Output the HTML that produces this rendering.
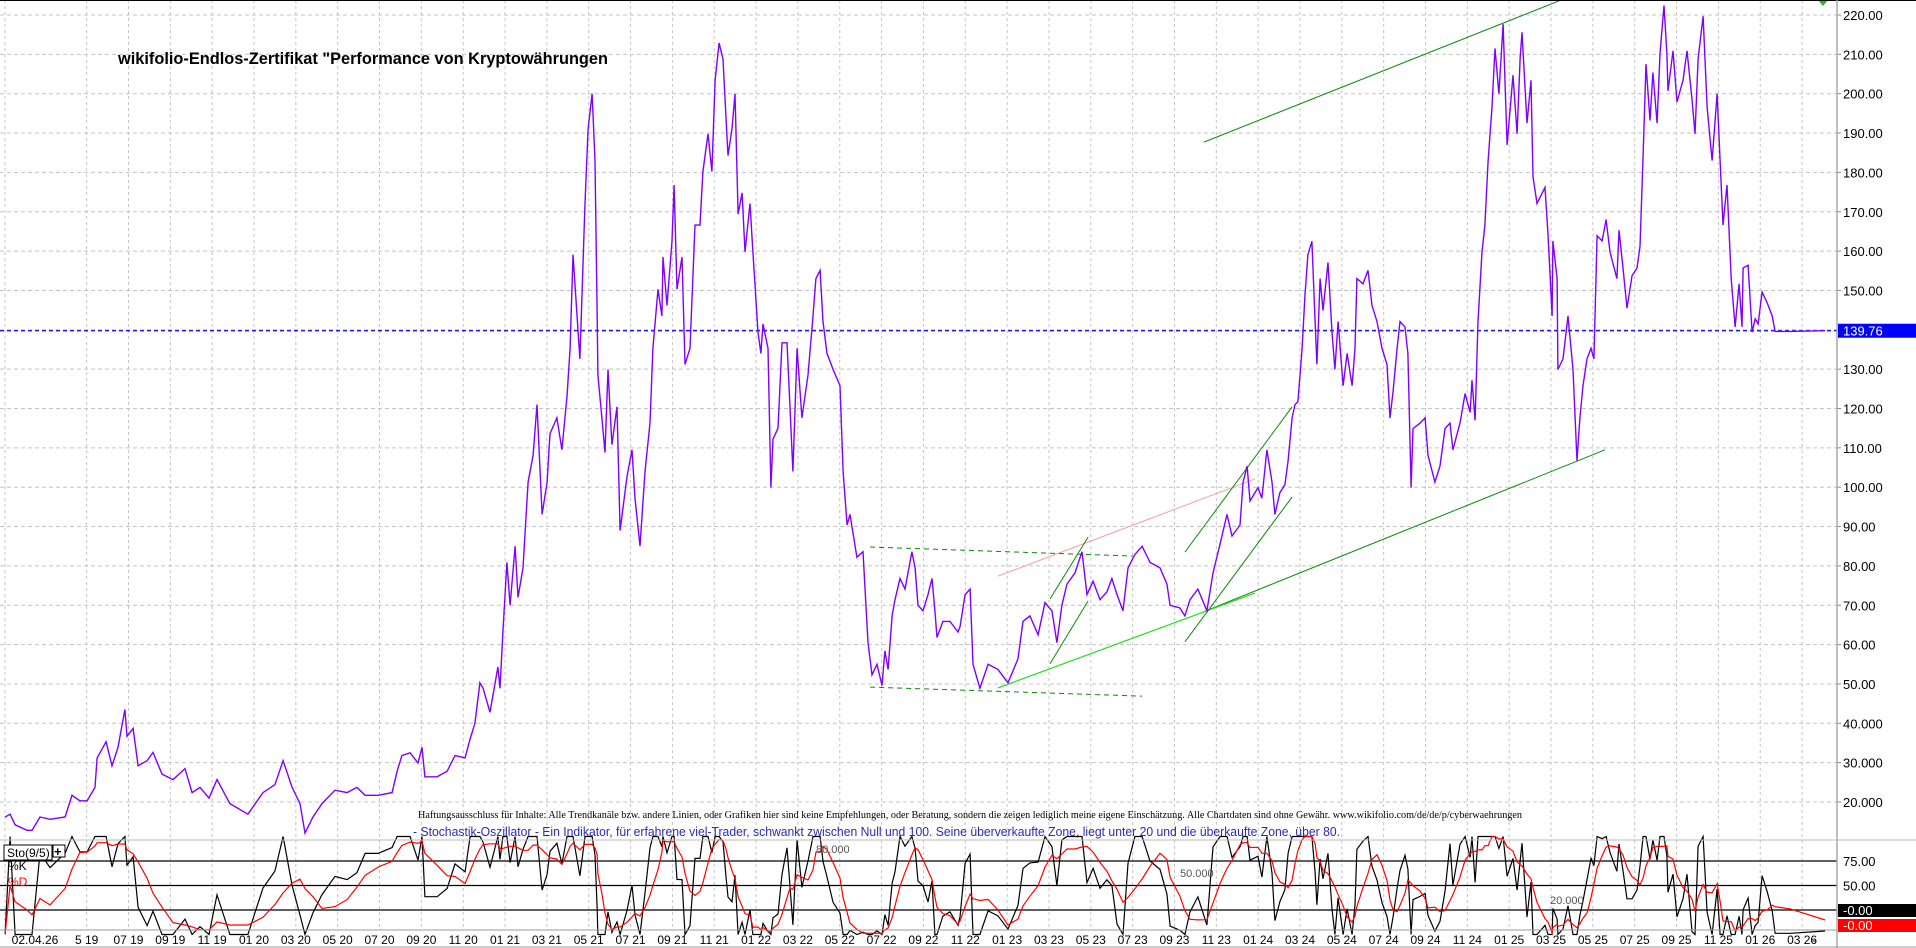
<!DOCTYPE html>
<html><head><meta charset="utf-8"><style>
html,body{margin:0;padding:0;background:#fff;overflow:hidden}
svg{display:block;font-family:"Liberation Sans",sans-serif}
</style></head><body>
<svg id="c" width="1916" height="948" viewBox="0 0 1916 948" xmlns="http://www.w3.org/2000/svg">
<rect x="0" y="0" width="1916" height="948" fill="#fff"/>
<g id="grid"></g>
<g id="trend"></g>
<g id="series"></g>
<g id="sto"></g>
<g id="axes"></g>
<text x="118" y="64" font-size="17" font-weight="bold" textLength="490" lengthAdjust="spacingAndGlyphs">wikifolio-Endlos-Zertifikat "Performance von Kryptowährungen</text>
<text x="418" y="818" font-family="Liberation Serif, serif" font-size="11" textLength="1104" lengthAdjust="spacingAndGlyphs">Haftungsausschluss für Inhalte: Alle Trendkanäle bzw. andere Linien, oder Grafiken hier sind keine Empfehlungen, oder Beratung, sondern die zeigen lediglich meine eigene Einschätzung. Alle Chartdaten sind ohne Gewähr.  www.wikifolio.com/de/de/p/cyberwaehrungen</text>
<text x="413" y="836" font-size="12.5" fill="#2a2ab8" textLength="927" lengthAdjust="spacingAndGlyphs">- Stochastik-Oszillator - Ein Indikator, für erfahrene viel-Trader, schwankt zwischen Null und 100. Seine überverkaufte Zone, liegt unter 20 und die überkaufte Zone, über 80.</text>
</svg>
<script>
const dates=[-11.90,-11.66,-11.42,-10.85,-10.61,-10.23,-9.75,-9.03,-8.70,-8.32,-7.98,-7.60,-7.50,-7.07,-6.79,-6.50,-6.17,-6.07,-5.78,-5.54,-5.11,-4.83,-4.40,-3.87,-3.30,-2.96,-2.58,-2.15,-1.77,-1.15,-0.29,0.43,1.00,1.39,1.82,2.20,2.44,2.82,3.25,3.87,4.45,4.92,5.31,5.93,6.60,6.84,7.07,7.46,7.84,8.03,8.17,8.75,9.23,9.61,10.09,10.33,10.56,10.80,10.95,11.28,11.66,11.76,11.90,12.09,12.24,12.48,12.62,12.86,13.10,13.34,13.53,13.77,14.01,14.15,14.48,14.72,14.96,15.11,15.25,15.58,15.82,15.97,16.16,16.30,16.40,16.44,16.63,16.78,16.92,17.11,17.35,17.50,17.83,18.07,18.21,18.45,18.69,18.93,19.07,19.31,19.50,19.55,19.74,19.98,20.08,20.22,20.46,20.60,20.84,21.08,21.32,21.46,21.70,21.89,22.04,22.23,22.42,22.56,22.66,22.85,22.99,23.14,23.33,23.47,23.71,23.85,24.09,24.23,24.33,24.57,24.71,24.81,25.05,25.24,25.48,25.62,25.76,25.96,26.19,26.48,26.72,26.86,27.06,27.20,27.39,27.68,28.01,28.16,28.35,28.49,28.82,29.11,29.35,29.54,29.78,30.02,30.16,30.31,30.50,30.64,30.88,31.12,31.45,31.60,31.74,31.98,32.22,32.41,32.55,32.65,32.93,33.27,33.65,33.75,33.99,34.23,34.37,34.70,35.09,35.56,36.04,36.52,36.76,37.09,37.48,37.81,38.14,38.38,38.62,38.86,39.24,39.58,39.82,40.11,40.44,40.77,41.01,41.25,41.54,41.78,42.11,42.45,42.83,43.31,43.64,43.79,44.26,44.50,44.74,45.12,45.55,45.84,46.18,46.51,46.75,47.13,47.28,47.47,47.61,47.99,48.18,48.42,48.66,48.80,49.04,49.28,49.43,49.62,49.76,49.90,50.10,50.24,50.38,50.57,50.72,50.81,50.96,51.10,51.34,51.53,51.67,51.82,52.06,52.25,52.49,52.63,52.72,53.01,53.25,53.44,53.68,53.92,54.16,54.30,54.45,54.64,54.78,55.02,55.16,55.31,55.40,55.74,55.98,56.12,56.45,56.69,56.93,57.17,57.31,57.65,57.89,58.13,58.22,58.37,58.51,58.70,58.84,58.99,59.18,59.32,59.51,59.71,59.90,60.18,60.38,60.52,60.61,60.85,61.04,61.14,61.33,61.71,61.86,62.05,62.09,62.29,62.33,62.57,62.81,63.05,63.24,63.38,63.53,63.72,63.91,64.05,64.20,64.44,64.63,64.82,65.15,65.25,65.44,65.63,65.87,66.11,66.25,66.40,66.54,66.73,66.87,67.07,67.21,67.40,67.54,67.59,67.83,68.02,68.31,68.50,68.74,68.88,69.03,69.27,69.46,69.70,69.94,70.08,70.22,70.41,70.61,70.80,70.99,71.13,71.18,71.42,71.61,71.76,71.90,72.09,72.33,72.57,72.71,73.43,75.10];
const prices=[16.2,16.9,14.2,12.8,12.8,16.2,15.6,16.2,21.7,20.3,20.3,23.7,31.2,35.3,29.2,33.9,43.5,36.7,38.7,29.2,30.5,32.6,27.1,25.7,28.5,22.4,23.7,21.0,25.7,19.6,16.9,22.4,24.4,30.5,23.7,19.6,12.1,16.2,19.6,23.0,22.4,23.7,21.7,21.7,22.4,27.8,31.8,32.5,29.9,33.9,26.4,26.4,27.8,31.8,31.2,36.0,40.0,50.3,48.9,42.8,54.3,48.9,63.2,80.9,70.0,85.0,72.0,79.5,101.3,108.1,121.0,93.1,101.3,113.6,117.6,109.5,123.1,135.3,159.1,132.6,172.1,191.1,200.0,183.0,144.9,128.5,117.6,108.8,129.9,110.8,120.4,89.0,102.7,109.5,97.2,85.0,104.0,116.3,135.3,150.3,143.5,158.5,146.2,162.6,176.8,150.3,158.5,131.2,135.3,166.6,166.6,180.2,189.8,180.2,203.4,212.9,208.8,193.9,184.3,191.1,200.0,169.4,174.8,159.8,172.1,159.8,139.4,134.0,141.5,135.3,99.9,112.2,115.0,136.7,136.7,120.3,104.0,135.3,117.6,128.5,143.5,153.0,155.1,142.1,134.0,129.9,125.8,104.0,90.4,93.1,82.2,83.6,60.5,52.3,55.0,49.6,58.4,53.7,67.3,71.4,76.8,74.1,83.6,79.5,70.0,68.6,72.7,76.8,68.6,61.8,65.9,65.9,63.2,64.6,72.7,74.1,55.0,48.9,55.0,53.7,50.3,56.4,65.9,67.3,62.5,70.7,68.6,60.5,70.0,75.4,78.2,83.6,72.7,76.1,71.4,73.4,76.8,72.7,68.6,79.5,82.9,85.0,80.9,79.5,75.4,70.0,69.3,67.3,71.4,74.1,68.6,78.2,85.6,93.1,87.6,90.4,101.3,105.4,96.5,99.9,97.2,109.5,101.3,93.1,98.6,100.6,106.7,117.6,121.0,121.7,135.3,148.9,159.1,162.5,142.1,131.2,153.0,144.9,157.1,139.4,129.9,142.1,125.8,134.0,125.8,135.3,153.0,151.7,155.1,146.2,142.1,135.3,131.2,117.6,124.4,135.3,142.1,140.7,134.0,99.9,114.9,116.3,117.6,108.1,101.3,105.4,114.9,116.3,109.5,116.3,123.8,119.0,127.2,117.0,142.1,159.8,166.6,182.9,196.6,211.5,200.0,217.7,187.0,204.7,189.8,208.8,215.6,192.5,203.4,178.9,172.1,176.2,163.9,143.5,162.6,153.0,129.9,132.6,143.5,129.9,106.7,117.6,125.8,132.6,135.3,132.6,163.9,162.6,168.0,159.8,153.0,165.3,155.7,145.5,153.7,155.7,161.2,184.3,207.5,193.2,205.4,192.5,210.2,222.4,210.2,200.7,210.9,197.9,203.4,210.9,198.6,189.8,208.8,219.7,196.6,183.0,200.0,183.0,166.6,176.8,153.0,140.7,151.7,140.7,155.7,156.4,139.4,142.8,141.5,149.6,146.9,143.5,139.6,139.6,139.76];
const lastPrice=139.76;
const priceTicks=[220,210,200,190,180,170,160,150,140,130,120,110,100,90,80,70,60,50,40,30,20];
const priceTickLabels=["220.00","210.00","200.00","190.00","180.00","170.00","160.00","150.00","","130.00","120.00","110.00","100.00","90.00","80.00","70.00","60.00","50.00","40.000","30.000","20.000"];
const monthTicks=[-8,-6,-4,-2,0,2,4,6,8,10,12,14,16,18,20,22,24,26,28,30,32,34,36,38,40,42,44,46,48,50,52,54,56,58,60,62,64,66,68,70,72,74];
const monthLabels=["5 19","07 19","09 19","11 19","01 20","03 20","05 20","07 20","09 20","11 20","01 21","03 21","05 21","07 21","09 21","11 21","01 22","03 22","05 22","07 22","09 22","11 22","01 23","03 23","05 23","07 23","09 23","11 23","01 24","03 24","05 24","07 24","09 24","11 24","01 25","03 25","05 25","07 25","09 25","11 25","01 26","03 26"];
const stoLevels=[75,50,25];
// trend lines: [m1,v1,m2,v2]
const trendSolid=[[45.41,187.7,62.48,223.8],[45.46,68.5,64.58,109.5]];
const trendSupport=[[35.56,49.0,47.85,73.1]];
const trendPink=[[35.56,77.4,47.85,102.1]];
const trendDashed=[[29.45,84.8,42.02,82.5],[29.45,49.2,42.45,46.9]];
const trendShort=[[38.05,71.6,39.87,87.3],[38.05,55.1,39.87,71.1],[44.50,83.5,49.62,120.4],[44.50,60.7,49.62,97.5]];

const NS="http://www.w3.org/2000/svg";
const X=m=>254+m*20.92;
const Y=v=>15+(220-v)*3.935;
const SY=v=>934.5-v*0.98;
const R=1837;
function mk(tag,attrs,parent){const e=document.createElementNS(NS,tag);for(const k in attrs)e.setAttribute(k,attrs[k]);parent.appendChild(e);return e;}
const grid=document.getElementById('grid'),axes=document.getElementById('axes'),ser=document.getElementById('series'),tr=document.getElementById('trend'),sto=document.getElementById('sto');

priceTicks.forEach((v,i)=>{
  const l=mk('line',{x1:0,x2:R,y1:Y(v),y2:Y(v),stroke:'#c4c4c4','stroke-dasharray':'4,3'},grid);
  
  
  mk('line',{x1:R,x2:R+4,y1:Y(v),y2:Y(v),stroke:'#888'},axes);
  if(priceTickLabels[i]){
    const t=mk('text',{x:1843,y:Y(v)+5,'font-size':13,fill:'#000'},axes);
    t.textContent=priceTickLabels[i];
    
    
  }
});
const vxs=[5].concat(monthTicks.map(X));
vxs.forEach(x=>{
  const l=mk('line',{x1:x,x2:x,y1:0,y2:930,stroke:'#c4c4c4','stroke-dasharray':'3,3'},grid);
  
  
});
mk('line',{x1:0,x2:1916,y1:0.5,y2:0.5,stroke:'#000'},axes);
mk('line',{x1:R,x2:R,y1:0,y2:948,stroke:'#aaa','stroke-width':1.5},axes);
mk('line',{x1:0,x2:1916,y1:840,y2:840,stroke:'#bbb'},axes);
mk('line',{x1:0,x2:R,y1:930,y2:930,stroke:'#999'},axes);
mk('line',{x1:0,x2:1916,y1:947,y2:947,stroke:'#999'},axes);

{const t=mk('text',{x:35,y:944,'font-size':12,'text-anchor':'middle'},axes);t.textContent='02.04.26';

}
monthTicks.forEach((m,i)=>{
  const t=mk('text',{x:X(m),y:944,'font-size':12,'text-anchor':'middle'},axes);
  t.textContent=monthLabels[i];
  
  
});

{const l=mk('line',{x1:0,x2:R,y1:Y(lastPrice),y2:Y(lastPrice),stroke:'#0000ee','stroke-dasharray':'4,3','stroke-width':1.2},ser);


const b=mk('rect',{x:R+1,y:Y(lastPrice)-7,width:1916-R,height:14,fill:'#0000ff'},axes);


const t=mk('text',{x:1843,y:Y(lastPrice)+5,'font-size':13,fill:'#fff'},axes);t.textContent=lastPrice.toFixed(2);

}

function seg(arr,attrs,name){arr.forEach(s=>{const l=mk('line',Object.assign({x1:X(s[0]),y1:Y(s[1]),x2:X(s[2]),y2:Y(s[3])},attrs),tr);

});}
seg(trendSolid,{stroke:'#0a8a0a','stroke-width':1},'trend-channel-line');
seg(trendSupport,{stroke:'#22dd22','stroke-width':1.2},'support-line');
seg(trendPink,{stroke:'#f5a0a0','stroke-width':1},'resistance-line');
seg(trendDashed,{stroke:'#0a8a0a','stroke-width':1,'stroke-dasharray':'5,4'},'range-line');
seg(trendShort,{stroke:'#0a8a0a','stroke-width':1},'short-channel-line');
{const p=mk('path',{d:'M1818,0 L1828,0 L1823,6 Z',fill:'#22bb22'},tr);

}

{let d='';dates.forEach((m,i)=>{d+=(i?'L':'M')+X(m).toFixed(1)+','+Y(prices[i]).toFixed(1);});
const p=mk('path',{d:d,fill:'none',stroke:'#8000ff','stroke-width':1.4},ser);

}

const K=[],D=[];
for(let i=0;i<prices.length;i++){const w=prices.slice(Math.max(0,i-8),i+1);const lo=Math.min(...w),hi=Math.max(...w);K.push(hi>lo?(prices[i]-lo)/(hi-lo)*100:0);}
for(let i=0;i<K.length;i++){const w=K.slice(Math.max(0,i-4),i+1);D.push(w.reduce((a,b)=>a+b,0)/w.length);}
stoLevels.forEach(v=>{const l=mk('line',{x1:0,x2:R,y1:SY(v),y2:SY(v),stroke:'#000','stroke-width':1.2},sto);

});
function spath(arr,col,name){let d='';dates.forEach((m,i)=>{d+=(i?'L':'M')+X(m).toFixed(1)+','+SY(arr[i]).toFixed(1);});
const p=mk('path',{d:d,fill:'none',stroke:col,'stroke-width':1.2},sto);

}
spath(K,'#000','stochastic-k-line');
spath(D,'#ff0000','stochastic-d-line');
[['80.000',816,853],['50.000',1180,877],['20.000',1550,904]].forEach(a=>{const t=mk('text',{x:a[1],y:a[2],'font-size':11,fill:'#555'},sto);t.textContent=a[0];

});
{const r=mk('rect',{x:4,y:845,width:48,height:15,fill:'#fff',stroke:'#000'},sto);


const t=mk('text',{x:7,y:857,'font-size':12},sto);t.textContent='Sto(9/5)';


const b=mk('rect',{x:53,y:845,width:12,height:12,fill:'#fff',stroke:'#000'},sto);


const p=mk('text',{x:54,y:856,'font-size':13,'font-weight':'bold'},sto);p.textContent='+';


const k=mk('text',{x:8,y:870,'font-size':12},sto);k.textContent='%K';


const dd=mk('text',{x:8,y:886,'font-size':12,fill:'#f00'},sto);dd.textContent='%D';

}
[['75.00',SY(75)],['50.00',SY(50)]].forEach(a=>{const t=mk('text',{x:1843,y:a[1]+5,'font-size':13},axes);t.textContent=a[0];

});
{const b1=mk('rect',{x:R+1,y:904,width:79,height:13,fill:'#000'},axes);


const t1=mk('text',{x:1843,y:915,'font-size':13,fill:'#fff'},axes);t1.textContent='-0.00';


const b2=mk('rect',{x:R+1,y:919,width:79,height:13,fill:'#ff0000'},axes);


const t2=mk('text',{x:1843,y:930,'font-size':13,fill:'#fff'},axes);t2.textContent='-0.00';


const t3=mk('text',{x:1812,y:944,'font-size':12},axes);t3.textContent='-';

}
</script>
</body></html>
